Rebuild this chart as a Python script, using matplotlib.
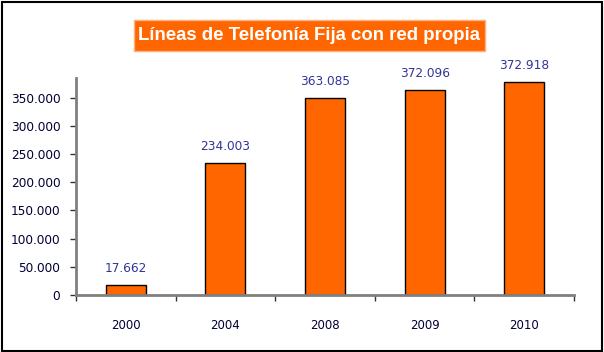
import matplotlib.pyplot as plt
from matplotlib.patches import Rectangle
from matplotlib.ticker import FuncFormatter

years = ["2000", "2004", "2008", "2009", "2010"]
# bar heights as drawn in the picture
values = [17662, 234003, 350000, 363500, 378000]
# printed data labels
labels = ["17.662", "234.003", "363.085", "372.096", "372.918"]

ORANGE = "#FF6600"
LABEL_COLOR = "#333399"
TICK_COLOR = "#000033"
AXIS_GRAY = "#808080"

fig = plt.figure(figsize=(6.04, 3.52), dpi=100)
ax = fig.add_axes([76 / 604, 1 - 295 / 352, (574 - 76) / 604, (295 - 78) / 352])

x = range(len(years))
ax.bar(x, values, width=0.4, color=ORANGE, edgecolor="black", linewidth=1)

for i, (v, lab) in enumerate(zip(values, labels)):
    ax.annotate(lab, (i, v), xytext=(0, 7), textcoords="offset points",
                ha="center", va="bottom", fontsize=8.7, color=LABEL_COLOR)

ax.set_xlim(-0.5, len(years) - 0.5)
ax.set_ylim(0, 385000)
ax.set_yticks(range(0, 350001, 50000))
ax.yaxis.set_major_formatter(FuncFormatter(lambda v, p: f"{int(v):,}".replace(",", ".")))

# category labels between boundary ticks
ax.set_xticks([i - 0.5 for i in range(len(years) + 1)])
ax.set_xticklabels([])
ax.set_xticks(list(x), minor=True)
ax.set_xticklabels(years, minor=True)
ax.tick_params(axis="x", which="minor", length=0, pad=17, labelsize=8.5, labelcolor=TICK_COLOR)
ax.tick_params(axis="x", which="major", length=4.3, width=1, color="#333333", direction="out")
ax.tick_params(axis="y", length=4.3, width=1, color="#333333", labelsize=8.7,
               labelcolor=TICK_COLOR, pad=7)

for side in ["top", "right"]:
    ax.spines[side].set_visible(False)
for side in ["left", "bottom"]:
    ax.spines[side].set_color(AXIS_GRAY)
    ax.spines[side].set_linewidth(2)

# title box
fig.patches.append(Rectangle((134 / 604, 1 - 51 / 352), (485 - 134) / 604, 31 / 352,
                             transform=fig.transFigure, facecolor=ORANGE,
                             edgecolor="#FFB080", linewidth=1))
fig.text(309.5 / 604, 1 - 36 / 352, "Líneas de Telefonía Fija con red propia",
         ha="center", va="center", color="white", fontsize=13.4, fontweight="bold",
         family="Liberation Sans")

# outer frame
fig.patches.append(Rectangle((1.5 / 604, 1.5 / 352), 600.5 / 604, 348.5 / 352,
                             transform=fig.transFigure, fill=False,
                             edgecolor="black", linewidth=1.5))

fig.savefig("out.png", dpi=100)
